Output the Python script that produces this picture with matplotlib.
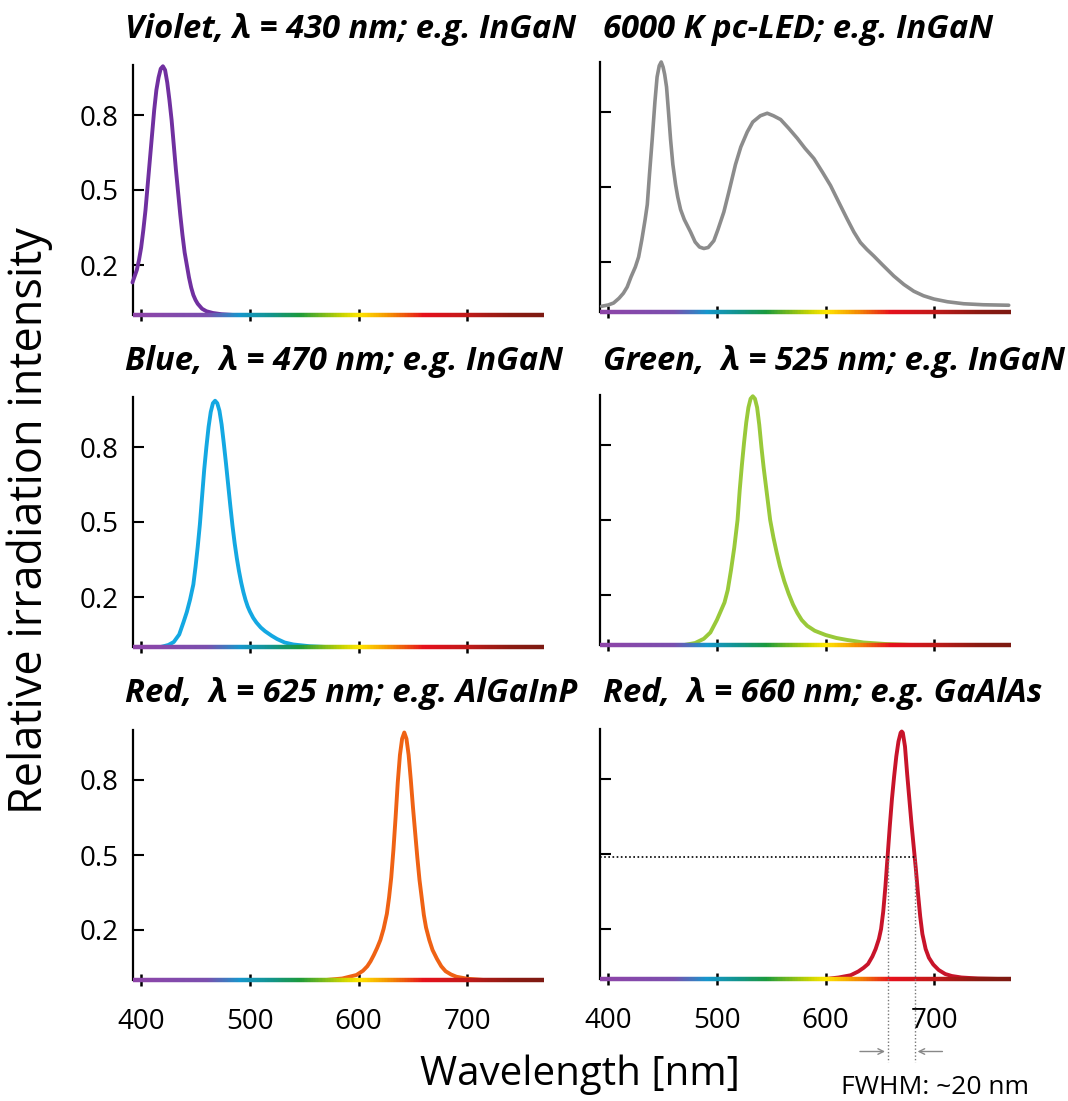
import numpy as np
import matplotlib
matplotlib.use('Agg')
import matplotlib.pyplot as plt
from matplotlib.collections import LineCollection
from matplotlib.colors import LinearSegmentedColormap

plt.rcParams['font.family'] = ['Open Sans', 'DejaVu Sans']

# --- data (wavelength nm, relative intensity) ---
violet_nm = [392, 394, 396, 398, 400, 402, 404, 406, 408, 410, 412, 414, 416, 418, 420, 422, 424, 426, 428, 430,
             432, 434, 436, 438, 440, 442, 444, 446, 448, 450, 452, 456, 460, 466, 474, 485]
violet_v = [0.13, 0.155, 0.18, 0.22, 0.27, 0.34, 0.42, 0.52, 0.62, 0.72, 0.82, 0.90, 0.95, 0.985, 0.995, 0.98,
            0.93, 0.86, 0.78, 0.68, 0.58, 0.49, 0.40, 0.32, 0.25, 0.20, 0.15, 0.11, 0.08, 0.06, 0.045, 0.025,
            0.015, 0.008, 0.003, 0.0]

white_nm = [394, 400, 405, 410, 414, 417.5, 421, 425, 428, 431, 434, 436, 438, 440.5, 443, 445, 447, 448.8, 450.5,
            452, 453.7, 455.5, 457.4, 459.5, 462, 464, 466.6, 470, 475.8, 480, 484, 488, 492, 497.2, 501, 506.4,
            511, 517.1, 522, 527.9, 533, 540, 546.3, 552, 558.6, 566, 573.9, 581, 589.2, 597, 604.5, 612, 619.8,
            626, 632, 638, 644.3, 652, 662.7, 672, 681.1, 690, 699.5, 712, 727, 745, 768.4]
white_v = [0.023, 0.028, 0.036, 0.055, 0.075, 0.10, 0.14, 0.18, 0.22, 0.29, 0.37, 0.43, 0.55, 0.69, 0.84, 0.94,
           0.985, 1.0, 0.98, 0.95, 0.90, 0.80, 0.69, 0.59, 0.51, 0.46, 0.41, 0.37, 0.32, 0.28, 0.26, 0.254, 0.258,
           0.285, 0.33, 0.40, 0.48, 0.59, 0.66, 0.72, 0.76, 0.785, 0.795, 0.785, 0.77, 0.735, 0.695, 0.655, 0.614,
           0.56, 0.506, 0.44, 0.372, 0.32, 0.278, 0.25, 0.224, 0.19, 0.144, 0.11, 0.083, 0.065, 0.052, 0.041,
           0.033, 0.029, 0.027]

blue_nm = [418, 425, 430, 435, 439, 442, 445, 448, 450, 452, 454, 456, 458, 460, 462, 464, 466, 468, 470, 472,
           474, 476, 478, 480, 482, 484, 486, 488, 490, 492, 494, 496, 498, 500, 503, 506, 510, 514, 520, 525,
           532, 540, 555, 570]
blue_v = [0.0, 0.008, 0.02, 0.05, 0.10, 0.14, 0.19, 0.25, 0.32, 0.40, 0.49, 0.60, 0.71, 0.80, 0.88, 0.94, 0.975,
          0.985, 0.975, 0.945, 0.89, 0.815, 0.735, 0.65, 0.565, 0.485, 0.415, 0.355, 0.303, 0.258, 0.22, 0.188,
          0.162, 0.142, 0.117, 0.098, 0.078, 0.063, 0.045, 0.032, 0.018, 0.01, 0.003, 0.0]

green_nm = [470, 480, 488, 494, 500, 504, 507, 510, 513, 516, 519, 521, 523, 525, 527, 529, 531, 533, 535, 537,
            539, 541, 543, 545, 547, 549, 552, 555, 558, 562, 566, 570, 574, 578, 583, 590, 600, 610, 620, 635,
            655, 680]
green_v = [0.0, 0.008, 0.025, 0.05, 0.10, 0.14, 0.17, 0.22, 0.30, 0.39, 0.50, 0.62, 0.72, 0.81, 0.89, 0.95, 0.985,
           0.995, 0.985, 0.95, 0.88, 0.79, 0.71, 0.64, 0.57, 0.50, 0.43, 0.37, 0.315, 0.255, 0.205, 0.162, 0.128,
           0.10, 0.077, 0.057, 0.04, 0.028, 0.02, 0.01, 0.004, 0.0]

orange_nm = [570, 585, 598, 604, 608, 611, 614, 617, 620, 623, 626, 628, 630, 632, 634, 636, 638, 640, 642, 644,
             646, 648, 650, 652, 654, 656, 658, 660, 662, 665, 668, 672, 676, 680, 685, 690, 700, 715]
orange_v = [0.0, 0.006, 0.02, 0.037, 0.055, 0.075, 0.10, 0.128, 0.16, 0.205, 0.265, 0.33, 0.41, 0.52, 0.65, 0.79,
            0.90, 0.965, 0.99, 0.965, 0.90, 0.80, 0.69, 0.59, 0.49, 0.40, 0.33, 0.26, 0.21, 0.16, 0.12, 0.085,
            0.055, 0.035, 0.022, 0.013, 0.005, 0.0]

red_nm = [600, 612, 623, 630, 635, 639, 643, 646, 649, 651, 653, 655, 657, 659, 661, 663, 665, 667, 669, 670, 671,
          673, 675, 677, 679, 681, 683, 685, 687, 689, 692, 695, 699, 704, 710, 716, 725, 740, 760]
red_v = [0.0, 0.006, 0.015, 0.03, 0.045, 0.06, 0.09, 0.12, 0.16, 0.20, 0.27, 0.37, 0.49, 0.61, 0.72, 0.81, 0.89,
         0.95, 0.985, 0.99, 0.985, 0.93, 0.82, 0.72, 0.62, 0.53, 0.44, 0.34, 0.25, 0.18, 0.12, 0.085, 0.058,
         0.036, 0.02, 0.012, 0.006, 0.002, 0.0]

titles = ['Violet, λ = 430 nm; e.g. InGaN', '6000 K pc-LED; e.g. InGaN',
          'Blue,  λ = 470 nm; e.g. InGaN', 'Green,  λ = 525 nm; e.g. InGaN',
          'Red,  λ = 625 nm; e.g. AlGaInP', 'Red,  λ = 660 nm; e.g. GaAlAs']
series = [(violet_nm, violet_v), (white_nm, white_v), (blue_nm, blue_v),
          (green_nm, green_v), (orange_nm, orange_v), (red_nm, red_v)]
colors = ['#7030a0', '#8c8c8c', '#14a8e2', '#99c93a', '#ef6214', '#c8142a']
yticks = [0.2, 0.5, 0.8]
xticks = [400, 500, 600, 700]
fwhm_half = 0.49
fwhm_left, fwhm_right = 657.2, 682.0

# rainbow for the wavelength baseline
rb_nm = [392, 460, 490, 520, 545, 585, 600, 625, 660, 700, 740, 771]
rb_col = ['#8e44a8', '#7a4fae', '#1596cc', '#12948a', '#1b9a3c', '#c9d400', '#ffe600', '#f59a00',
          '#e6101c', '#c01a1a', '#8c1a12', '#7c1a12']

W, H = 1068, 1101
fig = plt.figure(figsize=(W / 100, H / 100), dpi=100)

x_lo, x_hi = 392.5, 770.5
col_x = [133, 600]
base_y = [[315, 312], [647, 645], [980, 979]]
ax_h = 250
title_y = [30, 362, 694]
title_x = [125, 603]

cmap = LinearSegmentedColormap.from_list(
    'rb', [((n - rb_nm[0]) / (rb_nm[-1] - rb_nm[0]), c) for n, c in zip(rb_nm, rb_col)])

axes = []
for k in range(6):
    r, c = divmod(k, 2)
    b = base_y[r][c]
    ax = fig.add_axes([col_x[c] / W, 1 - b / H, 411 / W, ax_h / H])
    axes.append(ax)
    ax.set_xlim(x_lo, x_hi)
    ax.set_ylim(0, 1.0)
    for s in ['top', 'right', 'bottom']:
        ax.spines[s].set_visible(False)
    ax.spines['left'].set_linewidth(1.6)

    # rainbow baseline
    gx = np.linspace(x_lo, x_hi, 400)
    pts = np.array([gx, np.zeros_like(gx)]).T.reshape(-1, 1, 2)
    segs = np.concatenate([pts[:-1], pts[1:]], axis=1)
    lc = LineCollection(segs, colors=cmap((gx[:-1] - rb_nm[0]) / (rb_nm[-1] - rb_nm[0])),
                        linewidth=3.2, clip_on=False, zorder=4, capstyle='butt')
    ax.add_collection(lc)

    nm, v = series[k]
    ax.plot(nm, v, color=colors[k], lw=2.8 if k != 1 else 2.6, zorder=3, clip_on=False,
            solid_joinstyle='round', solid_capstyle='round')

    ax.set_yticks(yticks)
    ax.set_xticks(xticks)
    ax.tick_params(axis='y', direction='in', length=8, width=1.5, pad=10, labelsize=20)
    ax.tick_params(axis='x', direction='inout', length=9, width=1.8, pad=16, labelsize=20)
    if c == 1:
        ax.set_yticklabels([])
    else:
        ax.set_yticklabels(['0.2', '0.5', '0.8'])
    if r < 2:
        ax.set_xticklabels([])
    for t in ax.xaxis.get_major_ticks():
        t.tick1line.set_zorder(5)

    fig.text(title_x[c] / W, 1 - title_y[r] / H, titles[k], fontsize=23.6, fontweight='bold',
             fontstyle='italic', ha='left', va='center')

# FWHM annotation on the 660 nm panel
ax = axes[5]
ax.plot([x_lo, fwhm_right], [fwhm_half, fwhm_half], color='black', lw=1.2, ls=(0, (1, 1.5)), zorder=4)
for xv in [fwhm_left, fwhm_right]:
    ax.plot([xv, xv], [fwhm_half, -0.33], color='#777777', lw=1.0, ls=(0, (1, 1.5)), zorder=4, clip_on=False)
ax.annotate('', xy=(fwhm_left, -0.29), xytext=(629, -0.29), annotation_clip=False,
            arrowprops=dict(arrowstyle='->', color='#888888', lw=1.0))
ax.annotate('', xy=(fwhm_right, -0.29), xytext=(710, -0.29), annotation_clip=False,
            arrowprops=dict(arrowstyle='->', color='#888888', lw=1.0))

fig.text(935 / W, 1 - 1087 / H, 'FWHM: ~20 nm', fontsize=19, ha='center', va='center')
fig.text(30 / W, 1 - 521 / H, 'Relative irradiation intensity', fontsize=32.4, rotation=90,
         ha='center', va='center')
fig.text(580 / W, 1 - 1075 / H, 'Wavelength [nm]', fontsize=29, ha='center', va='center')

fig.savefig('out.png', dpi=100)
